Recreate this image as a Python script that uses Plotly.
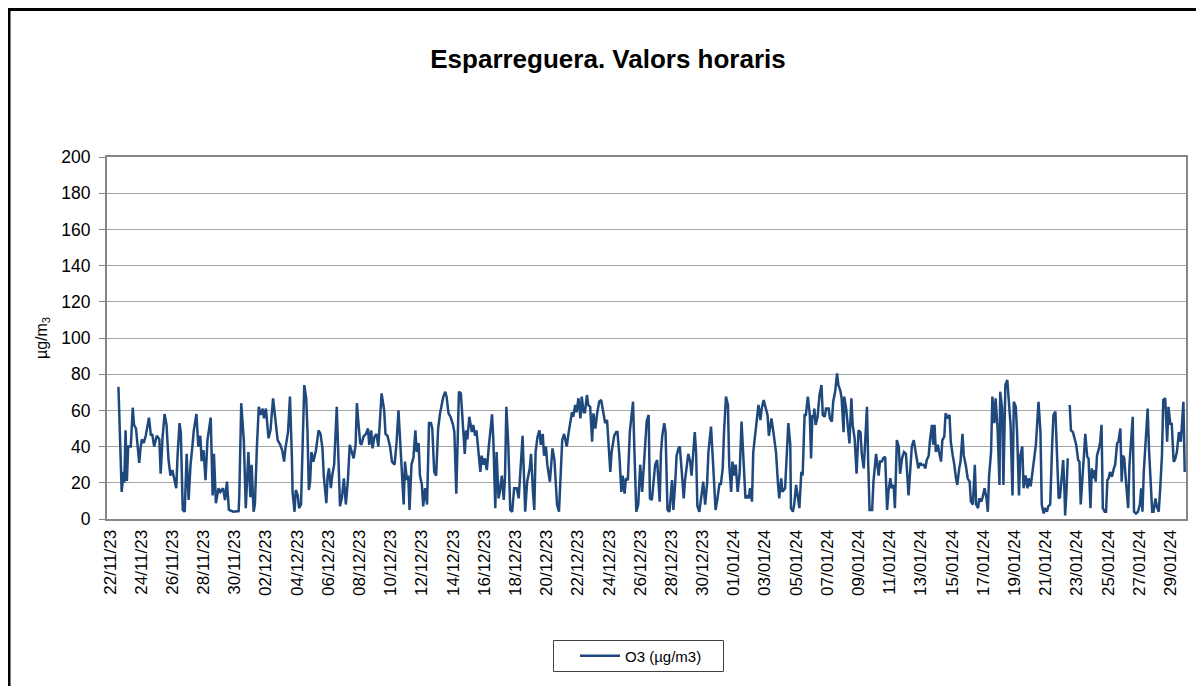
import pandas as pd
import plotly.graph_objects as go

# ---- data ----
start_date = "2023-11-22 00:00"
hours = [
    13, 18, 21, 22, 24, 26, 28, 32, 35, 37, 40, 42, 45, 47, 49, 52, 55, 60, 63, 65,
    68, 72, 76, 78, 81, 84, 87, 90, 93, 96, 99, 102, 104, 107, 109, 112, 115, 118, 121, 124,
    127, 129, 133, 136, 139, 141, 144, 147, 150, 155, 158, 160, 163, 167, 170, 174, 177, 180, 183, 190,
    198, 199, 202,
    206, 209, 213, 216, 218, 221, 223, 226, 229, 232, 235, 237, 240, 244, 247, 251, 255, 258, 262, 265,
    268, 270, 274, 277, 280, 281, 284, 286, 289, 291, 294, 297, 299, 302, 304, 306, 308, 310, 313, 317,
    321, 324, 327, 329, 333, 335, 337, 340, 342, 345, 349, 352, 354, 357, 360, 363, 366, 369, 373, 375,
    378, 380, 382, 385, 387, 390, 394, 397, 399, 402, 404, 407,
    410, 413, 418, 422, 424, 427, 431, 434, 438, 441, 444, 447, 449, 452, 454, 457, 459, 461, 464, 467,
    470, 472, 475, 477, 480, 482, 485, 488, 491, 494, 496, 499, 502, 505, 508, 511, 513, 516, 518, 521,
    524, 528, 530, 533, 535, 537, 540, 543, 546, 548, 550, 553, 557, 559, 562, 564, 567, 570, 572, 575,
    577, 580, 583, 588, 590, 593, 595, 598, 600, 603, 606, 608, 610, 613, 616, 619, 622,
    626, 629, 631, 635, 639, 642, 646, 648, 651, 653, 655, 658, 661, 663, 666, 668, 671, 673, 677, 681,
    684, 688, 691, 694, 696, 699, 703, 706, 708, 711, 713, 716, 718, 721, 724, 726, 729, 731, 734, 736,
    739, 742, 744, 747, 750, 753, 756, 759, 762, 765, 768, 770, 772, 776, 779, 781, 784, 787, 789, 792,
    794, 797, 800, 805, 807, 810, 813, 816, 819, 823, 826, 829,
    831, 834, 836, 839, 842, 844, 846, 848, 850, 853, 855, 858, 861, 865, 867, 870, 872, 875, 877, 880,
    883, 885, 888, 890, 893, 895, 900, 902, 904, 907, 911, 913, 916, 919, 921, 925, 928, 930, 932, 935,
    938, 940, 943, 945, 948, 951, 953, 956, 958, 961, 963, 966, 969, 972, 975, 978, 980, 983, 985, 988,
    990, 993, 996, 998, 1001, 1003, 1006, 1008, 1012, 1014, 1018, 1021, 1025, 1028, 1030, 1033, 1035,
    1039, 1042, 1044, 1047, 1048, 1051, 1053, 1056, 1059, 1061, 1064, 1066, 1069, 1071, 1074, 1077, 1079,
    1081, 1083, 1084, 1086, 1089, 1092, 1095, 1097, 1100, 1102, 1106, 1108, 1111, 1113, 1116, 1119, 1121,
    1124, 1126, 1129, 1130, 1133, 1136, 1138, 1141, 1143, 1146, 1149, 1152, 1155, 1157, 1160, 1162, 1165,
    1167, 1169, 1173, 1175, 1179, 1181, 1183, 1185, 1188, 1190, 1193, 1196, 1198, 1201, 1203, 1206, 1208,
    1211, 1214, 1216, 1219, 1222, 1225, 1229, 1232, 1234, 1237, 1239,
    1242, 1244, 1247, 1249, 1252, 1255, 1257, 1260, 1262, 1265, 1267, 1269, 1271, 1274, 1276, 1279, 1281,
    1284, 1286, 1289, 1292, 1294, 1297, 1299, 1302, 1304, 1307, 1309, 1312, 1314, 1317, 1320, 1323, 1325,
    1328, 1331, 1333, 1336, 1338, 1341, 1343, 1346, 1349, 1351, 1353, 1356, 1358, 1361, 1363, 1366, 1369,
    1370, 1373, 1375, 1378, 1381, 1383, 1386, 1389, 1391, 1394, 1396, 1399, 1401, 1404, 1406, 1409, 1412,
    1414, 1417, 1419, 1422, 1425, 1429, 1432, 1434, 1437, 1439, 1442, 1444, 1447, 1450, 1452,
    1455, 1457, 1460, 1462, 1465, 1467, 1469, 1470, 1472, 1474, 1475,
    1477, 1479, 1482, 1484, 1487, 1490, 1492, 1494, 1497, 1499, 1501, 1504, 1506, 1509, 1511, 1513, 1515,
    1517, 1519, 1522, 1524, 1526, 1528, 1531, 1533, 1535, 1537, 1539, 1542, 1545, 1547, 1550, 1552, 1555,
    1557, 1559, 1561, 1564, 1567, 1569, 1572, 1574, 1576, 1579, 1582, 1585, 1587, 1589, 1591, 1594, 1597,
    1599, 1601, 1604, 1606, 1609, 1611, 1614, 1616, 1619, 1621, 1624, 1627, 1629, 1632, 1634, 1637, 1639,
    1642, 1645, 1648, 1650, 1652, 1654,
]
o3 = [
    73, 15, 26, 20, 49, 21, 40, 40, 61.5, 52, 50, 43, 31, 39, 44, 42, 46, 56, 46, 47,
    40, 46, 44, 25, 45.5, 58, 52, 33, 24, 27, 21, 17, 35, 53, 48, 5, 4, 36, 10.5, 30,
    41, 49, 58, 40, 46, 32, 38, 21.5, 43.6, 56, 13, 36, 8.7, 17, 15, 17, 10.5, 20.6, 5, 4,
    4.4, 13, 64,
    43, 6, 37, 12, 30, 4, 8, 39, 62, 57.5, 61, 55.6, 61, 44.6, 49, 66.7, 51, 43.6, 41, 38,
    31.7, 39, 48, 67.6, 33.5, 15, 4, 16, 13, 6, 8, 57.5, 74, 66.7, 48, 16, 20.6, 37, 31.7, 38,
    49, 47, 39, 24, 8.7, 24, 28, 17, 24, 30, 62, 29, 7, 12, 22.5, 8, 20.6, 41, 36, 33.5,
    41, 64, 54.7, 42, 41, 45.5, 47, 50, 41, 49, 39, 45.5,
    47, 40, 69.4, 60, 47, 46, 40, 31.7, 30, 42, 60, 41, 26, 8, 31.7, 21.5, 24, 5, 30, 34,
    49, 37, 42, 24, 19, 7, 17, 8, 53, 53, 50, 26, 24, 50, 58.4, 63, 67.6, 70.3, 67.6, 58.4,
    56.5, 52, 48, 14, 41, 70.3, 69.4, 52, 36, 49, 44, 56.5, 48, 52, 46, 49, 38, 26, 35, 30,
    33.5, 27, 40, 57.8, 43.6, 6, 37, 11.4, 15, 24, 10.5, 24, 62, 41, 5, 4, 17,
    17, 11.4, 21.5, 46, 4, 20.6, 28, 36, 15, 5, 37, 45.5, 49, 41, 47, 35, 40, 30, 20.6, 39,
    32.6, 8, 4, 24, 43.6, 47, 40, 48, 53, 59, 56.5, 63, 59, 66.7, 55.6, 67.6, 59, 59, 68.5, 63,
    62, 42.7, 58.4, 50, 59, 64.8, 65.7, 60, 53, 54.7, 37, 26, 37, 46, 48, 48, 35, 15, 24, 14,
    22.5, 21.5, 48, 64.8, 39, 4, 8, 30, 15, 39, 54, 57.5,
    11.4, 10.5, 20.6, 30, 32.6, 20.6, 9.6, 37, 46, 53, 48, 5, 4, 21.5, 5, 20.6, 35, 39, 40, 26,
    11.4, 21.5, 31.7, 36, 31.7, 24, 48, 37, 7, 4, 15, 20.6, 8, 19.7, 37, 51, 31.7, 20.6, 5, 11.4,
    19.7, 18.8, 28, 48, 67.6, 63, 30, 15, 31.7, 24, 30, 15, 25, 53.8, 31.7, 11.4, 13, 11.4, 17, 9.6,
    37, 48, 59, 63, 54.7, 61, 65.7, 63, 57.5, 46, 55.6, 48, 37, 19.7, 11.4, 22.5, 15,
    17, 39, 53, 41, 6, 4, 8, 18.8, 11.4, 6, 26, 24, 57.5, 57.5, 67.6, 57.5, 33.5,
    57.5, 55.6, 61, 52, 56.5, 68.5, 74, 57.5, 56.5, 61, 61, 55.6, 53.8, 64.8, 70.3, 80.5, 74,
    71, 66.7, 48, 67.6, 61, 48, 41.8, 66.7, 52, 44.6, 25, 49, 48, 36, 28, 41, 62,
    30, 5, 5, 20.6, 36, 30, 24, 31.7, 31.7, 33.5, 34.4, 5, 15, 22.5, 17, 18.8, 6,
    43.6, 40, 25, 33.5, 37, 36, 13, 32.6, 40, 43.6, 39,
    30, 28, 31, 30, 30, 28, 32.6, 35, 43.6, 52, 41, 52, 37, 41, 37, 31.7, 43.6,
    45.5, 58.4, 55.6, 57.5, 42.7, 35, 31, 22.5, 18.8, 28, 31.7, 47, 35, 30, 22.5, 20.6, 9.6,
    8, 30, 8, 6, 11.4, 9.6, 12, 17, 11.4, 4, 24, 37, 67.6, 53, 66.7, 50, 18.8,
    70.3, 61, 18.8, 74, 76.8, 66.7, 52, 13, 64.8, 62, 48, 13, 35, 40, 17, 24, 17,
    22.5, 18, 24, 31.7, 41, 64.8, 48, 8, 3, 6, 4, 7, 8, 41, 57.5,
    59.3, 39, 11.4, 12, 22.5, 32.6, 15, 2, 15, 33.5, None,
    63, 49, 48, 45.5, 41, 32.6, 31.7, 8, 26, 39, 47, 34.4, 33.5, 6, 28, 22.5, 27,
    20.6, 35, 39, 42.7, 52, 6, 4, 4, 21.5, 22.5, 26, 23.4, 28, 30, 41.8, 42.7, 50,
    20.6, 35, 33.5, 18.8, 6, 30, 43.6, 56.5, 4, 3, 4, 8, 17, 4, 26, 42.7, 61,
    39, 24, 4, 4, 11.4, 7, 4, 15, 35, 65.7, 66.7, 42.7, 62, 52, 53, 31.7, 32.6,
    37, 48, 42.7, 55.6, 64.8, 26,
]
series_name = "O3 (µg/m3)"
chart_title = "Esparreguera. Valors horaris"
y_title = "µg/m<sub>3</sub>"
x_range = ["2023-11-21 19:24", "2024-01-30 00:00"]
y_range = [0, 200]

times = pd.Timestamp(start_date) + pd.to_timedelta(hours, unit="h")

FONT = "Liberation Sans, Arial, sans-serif"
LINE_COLOR = "#1F497D"
GRID = "#A6A6A6"
AXIS = "#868686"

# page body has an 8 px margin; lay out in reference pixels then shift
OFF = 8
W, H = 1204 - OFF, 686 - OFF
L, R, T, B = 107, 1186, 157, 519   # plot area in reference pixels


def px_x(p):
    return (p - L) / (R - L)


def px_y(p):
    return (B - p) / (B - T)


fig = go.Figure()
fig.add_trace(go.Scatter(
    x=times, y=o3, mode="lines", name=series_name,
    line=dict(color=LINE_COLOR, width=2.5), connectgaps=False,
    showlegend=True,
))

fig.update_layout(
    width=W, height=H,
    margin=dict(l=L - OFF, r=W - (R - OFF), t=T - OFF, b=H - (B - OFF), autoexpand=False),
    paper_bgcolor="white", plot_bgcolor="white",
    font=dict(family=FONT, size=17, color="black"),
    title=dict(text="<b>" + chart_title + "</b>", x=(608 - OFF) / W, xref="container",
               y=1 - (59 - OFF) / H, yref="container", xanchor="center", yanchor="middle",
               font=dict(family=FONT, size=26, color="black")),
    showlegend=True,
    legend=dict(x=px_x(641), y=px_y(656), xanchor="center", yanchor="middle",
                borderwidth=0, bgcolor="rgba(0,0,0,0)",
                font=dict(family=FONT, size=15, color="black"),
                itemwidth=40, orientation="h"),
    shapes=[
        dict(type="rect", xref="paper", yref="paper",
             x0=px_x(9), x1=px_x(1240), y0=px_y(9.5), y1=px_y(740),
             line=dict(color="black", width=3), fillcolor="rgba(0,0,0,0)", layer="above"),
        dict(type="rect", xref="paper", yref="paper",
             x0=px_x(553.5), x1=px_x(723.5), y0=px_y(671.5), y1=px_y(640.5),
             line=dict(color="#404040", width=1), fillcolor="rgba(0,0,0,0)", layer="above"),
    ],
)

fig.update_xaxes(
    type="date", range=x_range,
    tick0=start_date, dtick=2 * 24 * 3600 * 1000, tickformat="%d/%m/%y",
    tickangle=-90, tickfont=dict(family=FONT, size=17, color="black"),
    showgrid=False, zeroline=False,
    showline=True, linecolor=AXIS, linewidth=2, mirror=True,
    ticks="", ticklabelstandoff=2,
)
fig.update_yaxes(
    range=y_range, dtick=20, tick0=0,
    tickfont=dict(family=FONT, size=17.5, color="black"),
    showgrid=True, gridcolor=GRID, gridwidth=1, zeroline=False,
    showline=True, linecolor=AXIS, linewidth=2, mirror=True,
    ticks="outside", ticklen=6, tickcolor=AXIS, tickwidth=1, ticklabelstandoff=5,
    title=dict(text=y_title, font=dict(family=FONT, size=16, color="black"), standoff=10),
)

fig.write_html("out.html")
